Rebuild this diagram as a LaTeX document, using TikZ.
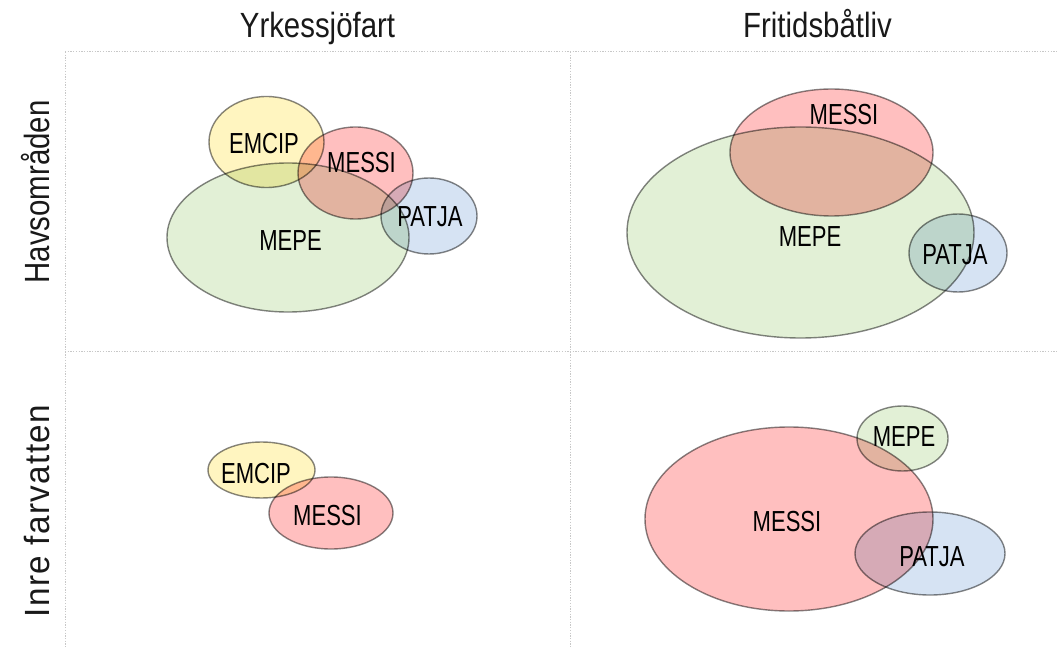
\documentclass[tikz,border=0pt]{standalone}
\usepackage{fontspec}
\setmainfont{Liberation Sans}[FakeStretch=0.76]
\newfontfamily\hdrfont{Liberation Sans}[FakeStretch=0.84]
\newfontfamily\hdrwidefont{Liberation Sans}[FakeStretch=0.95,LetterSpace=4]
\usetikzlibrary{shapes.geometric}
\definecolor{setline}{HTML}{858585}
\definecolor{gridgray}{HTML}{C8C8C8}
\definecolor{cyellow}{HTML}{FFF5C0}
\definecolor{cred}{HTML}{FFBFBF}
\definecolor{cgreen}{HTML}{E2F0D6}
\definecolor{cblue}{HTML}{D6E3F3}
\begin{document}
\begin{tikzpicture}[x=1bp,y=-1bp,
  set/.style={ellipse, draw=setline, line width=1.4bp, inner sep=0pt, outer sep=0pt, blend mode=multiply},
  lbl/.style={inner sep=0pt, font=\fontsize{29bp}{30bp}\selectfont, text=black},
  hdr/.style={inner sep=0pt, anchor=base, font=\hdrfont\fontsize{35bp}{38bp}\selectfont, text=black!90},
  gridline/.style={draw=gridgray, line width=1bp, dash pattern=on 1.3bp off 1.4bp}]
\useasboundingbox (0,0) rectangle (1058,648);
\fill[white] (0,0) rectangle (1058,648);

% grid
\coordinate (g1) at (65,52);
\coordinate (g2) at (1058,52);
\coordinate (g3) at (65,351.5);
\coordinate (g4) at (1058,351.5);
\coordinate (g5) at (65,648);
\coordinate (g6) at (570,52);
\coordinate (g7) at (570,648);
\draw[gridline] (g1) -- (g2);
\draw[gridline] (g3) -- (g4);
\draw[gridline] (g1) -- (g5);
\draw[gridline] (g6) -- (g7);

% headers
\node[hdr] (h1) at (317.5,38) {Yrkessjöfart};
\node[hdr] (h2) at (817.5,38) {Fritidsbåtliv};
\node[hdr, rotate=90] (r1) at (49,192) {Havsområden};
\node[hdr, rotate=90, font=\hdrwidefont\fontsize{35bp}{38bp}\selectfont] (r2) at (49,511) {Inre farvatten};

% top-left
\node[set, fill=cgreen, minimum width=242bp, minimum height=149bp] (tlMEPE) at (288,237.5) {};
\node[set, fill=cyellow, minimum width=115bp, minimum height=91bp] (tlEMCIP) at (266.5,142) {};
\node[set, fill=cred, minimum width=115bp, minimum height=92bp] (tlMESSI) at (355.5,173) {};
\node[set, fill=cblue, minimum width=96bp, minimum height=76bp] (tlPATJA) at (429,216) {};
\node[lbl] (tlEMCIPt) at (264,143.5) {EMCIP};
\node[lbl] (tlMESSIt) at (361.5,162.5) {MESSI};
\node[lbl] (tlMEPEt) at (290.5,240.5) {MEPE};
\node[lbl] (tlPATJAt) at (430,216.5) {PATJA};

% top-right
\node[set, fill=cgreen, minimum width=347bp, minimum height=211bp] (trMEPE) at (800.5,232.5) {};
\node[set, fill=cred, minimum width=203bp, minimum height=127bp] (trMESSI) at (831.5,152.5) {};
\node[set, fill=cblue, minimum width=98bp, minimum height=78bp] (trPATJA) at (958,253) {};
\node[lbl] (trMESSIt) at (844,114.5) {MESSI};
\node[lbl] (trMEPEt) at (810,237) {MEPE};
\node[lbl] (trPATJAt) at (955,255) {PATJA};

% bottom-left
\node[set, fill=cyellow, minimum width=107bp, minimum height=56bp] (blEMCIP) at (261.5,470) {};
\node[set, fill=cred, minimum width=124bp, minimum height=72bp] (blMESSI) at (331,513) {};
\node[lbl] (blEMCIPt) at (256,474) {EMCIP};
\node[lbl] (blMESSIt) at (327.5,516) {MESSI};

% bottom-right
\node[set, fill=cred, minimum width=288bp, minimum height=184bp] (brMESSI) at (789,519) {};
\node[set, fill=cgreen, minimum width=91bp, minimum height=65bp] (brMEPE) at (902.5,438.5) {};
\node[set, fill=cblue, minimum width=150bp, minimum height=83bp] (brPATJA) at (930,553.5) {};
\node[lbl] (brMEPEt) at (904,437) {MEPE};
\node[lbl] (brMESSIt) at (787,522) {MESSI};
\node[lbl] (brPATJAt) at (932,557) {PATJA};
\end{tikzpicture}
\end{document}
